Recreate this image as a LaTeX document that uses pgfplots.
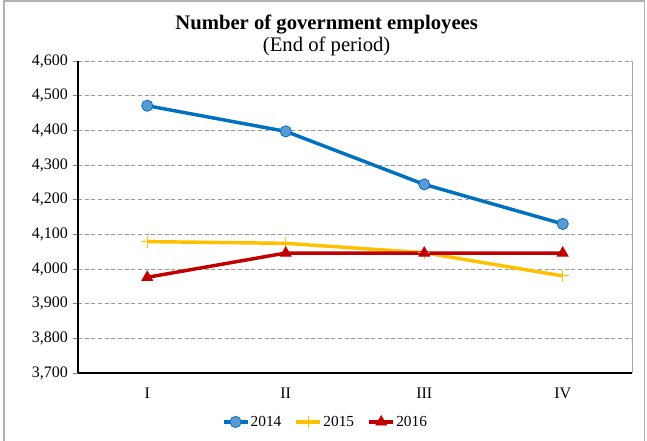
\documentclass[border=0pt]{standalone}
\usepackage{pgfplots}
\pgfplotsset{compat=1.18}
\usepackage{fontspec}
\setmainfont{Liberation Serif}
\definecolor{c2014}{HTML}{0070C0}
\definecolor{m2014}{HTML}{5B9BD5}
\definecolor{c2015}{HTML}{FFC000}
\definecolor{c2016}{HTML}{C00000}
\begin{document}
\begin{tikzpicture}
% picture size: 647x441 px at 0.75pt/px
\useasboundingbox (0,0) rectangle (485.25pt,330.75pt);
\draw[gray!60, line width=0.8pt] (3pt,0) -- (3pt,330pt) -- (483.5pt,330pt) -- (483.5pt,0);
\node[font=\fontsize{15.5}{18}\selectfont\bfseries] at (245pt,312.5pt) {Number of government employees};
\node[font=\fontsize{15.5}{18}\selectfont] at (245pt,296pt) {(End of period)};
\begin{axis}[
    at={(58.5pt,51pt)}, anchor=south west,
    scale only axis,
    width=415.5pt, height=234pt,
    xmin=-0.5, xmax=3.5,
    ymin=3700, ymax=4600,
    ytick distance=100,
    xtick={0,1,2,3},
    xticklabels={I,II,III,IV},
    minor xtick={-0.5,0.5,1.5,2.5,3.5},
    axis x line*=bottom,
    axis y line*=left,
    axis line style={black, line width=0.8pt, -},
    tick align=outside,
    xtick style={draw=none},
    minor x tick style={gray, line width=0.5pt},
    minor tick length=4pt,
    ytick style={gray, line width=0.5pt},
    major tick length=4pt,
    ymajorgrids,
    major grid style={gray!80, densely dashed, line width=0.6pt},
    tick label style={font=\fontsize{12}{14}\selectfont},
    xticklabel style={yshift=-4pt},
    /pgf/number format/assume math mode=true,
    /pgf/number format/.cd, 1000 sep={,},
    /pgfplots/.cd,
    legend columns=3,
    legend style={at={(0.446,-0.157)}, anchor=center, draw=none,
        font=\fontsize{11.5}{13}\selectfont,
        nodes={inner xsep=1pt},
        /tikz/every even column/.append style={column sep=9pt}},
    legend cell align=left,
    legend image code/.code={
        \draw[mark repeat=2, mark phase=2] plot coordinates {(0pt,0pt) (9pt,0pt) (18pt,0pt)};
    },
    after end axis/.code={
        \draw[gray!70, line width=0.6pt] (rel axis cs:1,0) -- (rel axis cs:1,1);
    },
]
\addplot[c2014, line width=2.6pt, mark=*, mark size=4.2pt,
    mark options={fill=m2014, draw=c2014, line width=0.6pt}]
    coordinates {(0,4471) (1,4397) (2,4244) (3,4130)};
\addlegendentry{2014}
\addplot[c2015, line width=2.6pt, mark=+, mark size=4.5pt,
    mark options={line width=0.8pt}]
    coordinates {(0,4079) (1,4074) (2,4047) (3,3980)};
\addlegendentry{2015}
\addplot[c2016, line width=2.6pt, mark=triangle*, mark size=4.8pt,
    mark options={line width=0.4pt}]
    coordinates {(0,3976) (1,4046) (2,4046) (3,4046)};
\addlegendentry{2016}
\end{axis}
\end{tikzpicture}
\end{document}
